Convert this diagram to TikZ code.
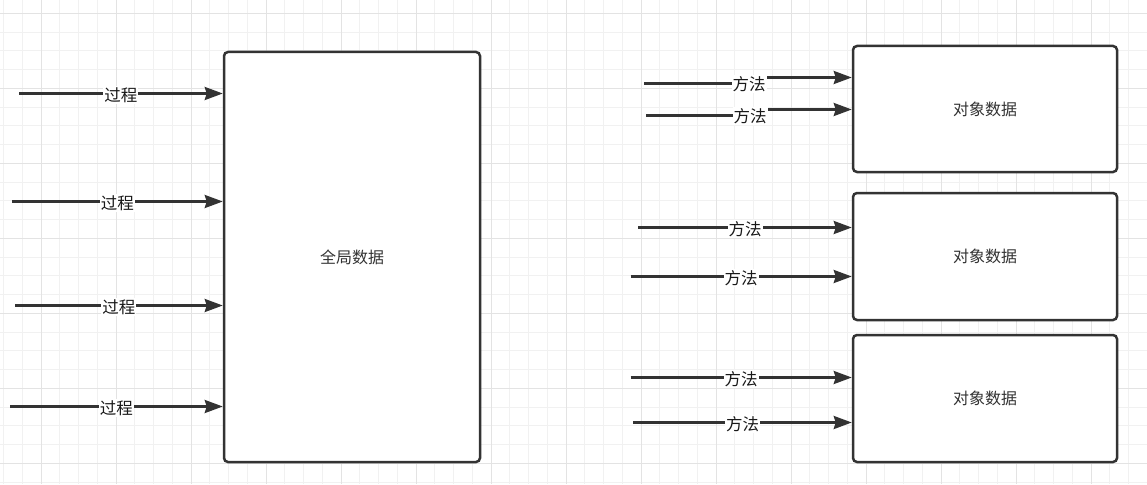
\documentclass[tikz,border=0pt]{standalone}
\usepackage{fontspec}
\setmainfont{Noto Sans CJK SC}
\usetikzlibrary{arrows.meta}

\definecolor{gridminor}{HTML}{F1F1F1}
\definecolor{gridmajor}{HTML}{E3E3E3}
\definecolor{edge}{HTML}{333333}

\tikzset{
  databox/.style={draw=edge, line width=2.5pt, rounded corners=4pt, fill=white,
    text=edge, font=\fontsize{16}{19}\selectfont},
  flow/.style={draw=edge, line width=2.6pt, -{Stealth[length=18pt,width=13pt,inset=2pt]}},
  lbl/.style={fill=white, inner sep=1pt, yshift=-1.5pt, text=black!90, font=\fontsize{16.5}{19}\selectfont},
}

\begin{document}
\begin{tikzpicture}[x=1pt,y=-1pt]
\useasboundingbox (0,0) rectangle (1147,484);
\fill[white] (0,0) rectangle (1147,484);

% background grid
\foreach \k in {0,...,61} \draw[gridminor, line width=1pt] (3.5+18.75*\k,0) -- (3.5+18.75*\k,484);
\foreach \k in {0,...,25} \draw[gridminor, line width=1pt] (0,13.3+18.75*\k) -- (1147,13.3+18.75*\k);
\foreach \k in {0,...,14} \draw[gridmajor, line width=1pt] (41+75*\k,0) -- (41+75*\k,484);
\foreach \k in {0,...,6} \draw[gridmajor, line width=1pt] (0,13.3+75*\k) -- (1147,13.3+75*\k);

% data boxes
\node[databox, minimum width=256pt, minimum height=410pt] (global) at (352,257) {全局数据};
\node[databox, minimum width=264pt, minimum height=126pt] (obj1) at (985,109) {对象数据};
\node[databox, minimum width=264pt, minimum height=127pt] (obj2) at (985,256.5) {对象数据};
\node[databox, minimum width=264pt, minimum height=127pt] (obj3) at (985,398.5) {对象数据};

% procedures into the global data
\coordinate (p1) at (19,93.5);
\coordinate (p2) at (12,201.5);
\coordinate (p3) at (15,305.5);
\coordinate (p4) at (10,406.5);
\foreach \p in {p1,p2,p3,p4}
  \draw[flow] (\p) -- (\p -| global.west) node[lbl, midway] {过程};

% methods into the object data
\coordinate (m1) at (644,83.5);
\coordinate (m2) at (646,115.5);
\coordinate (e1) at (obj1.west |- 0,77.5);
\coordinate (e2) at (obj1.west |- 0,109.5);
\draw[flow] (m1) -| (760,80) |- (e1);
\draw[flow] (m2) -| (760,112) |- (e2);
\node[lbl] (t1) at (749,82.5) {方法};
\node[lbl] (t2) at (750,114.5) {方法};

\coordinate (m3) at (638.3,227.5);
\coordinate (m4) at (630.7,276.5);
\coordinate (m5) at (630.7,377.5);
\coordinate (m6) at (633.3,422.5);
\draw[flow] (m3) -- (m3 -| obj2.west) node[lbl, midway] {方法};
\draw[flow] (m4) -- (m4 -| obj2.west) node[lbl, midway] {方法};
\draw[flow] (m5) -- (m5 -| obj3.west) node[lbl, midway] {方法};
\draw[flow] (m6) -- (m6 -| obj3.west) node[lbl, midway] {方法};
\end{tikzpicture}
\end{document}
